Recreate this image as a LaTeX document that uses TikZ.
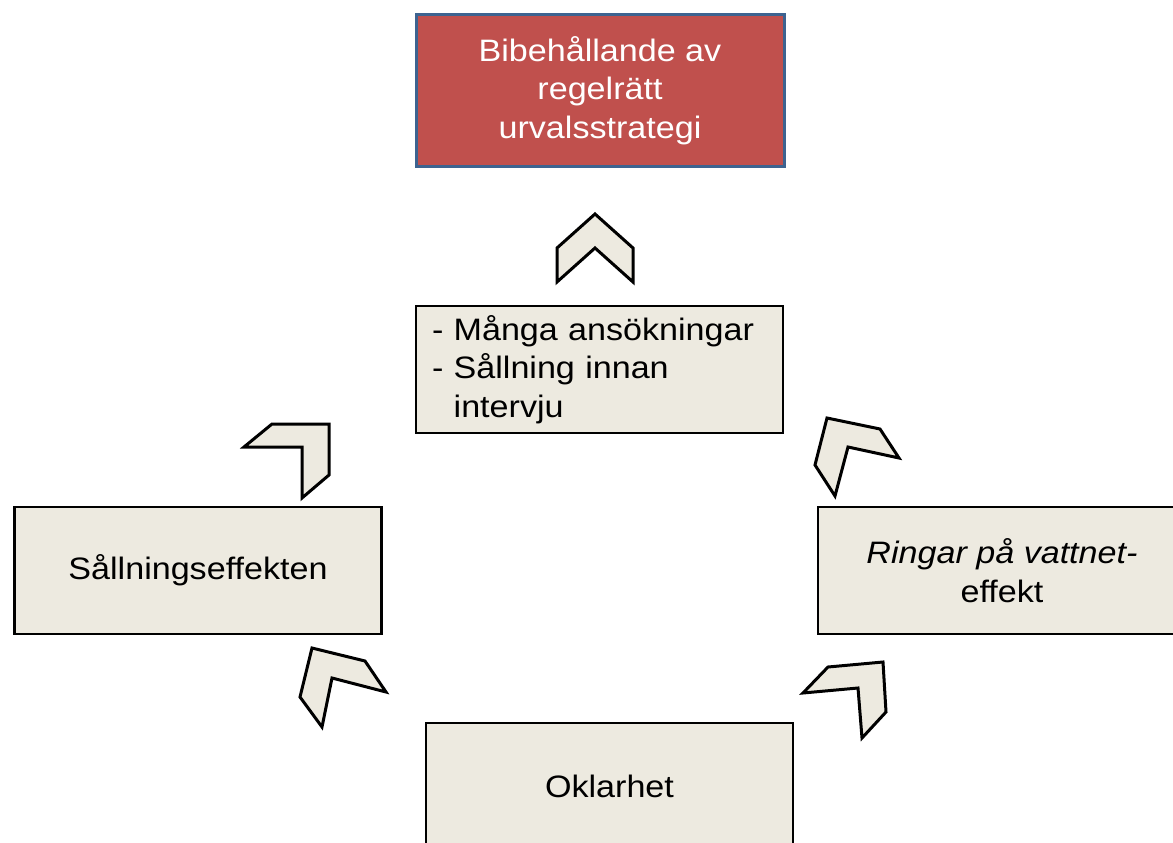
\documentclass[tikz,border=0pt]{standalone}
\usepackage{fontspec}
\setmainfont{Liberation Sans}[FakeStretch=1.1]
\definecolor{beige}{HTML}{EDEAE0}
\definecolor{redfill}{HTML}{C0504D}
\definecolor{blueline}{HTML}{3D6390}
\begin{document}
\begin{tikzpicture}[x=1pt,y=-1pt,
  box/.style={draw=black,line width=2.6pt,fill=beige,minimum width=367pt,minimum height=127pt,inner sep=0pt,
    font=\fontsize{31}{38.5}\selectfont,align=center},
  topbox/.style={draw=blueline,line width=3pt,fill=redfill,minimum width=368pt,minimum height=151pt,inner sep=0pt,
    font=\fontsize{31}{38.5}\selectfont,align=center,text=white},
  chev/.style={draw=black,line width=3pt,fill=beige,line join=miter}]
\useasboundingbox (0,0) rectangle (1173,843);
\clip (0,0) rectangle (1173,843);
\fill[white] (0,0) rectangle (1173,843);
% boxes
\node[topbox] (top) at (600,90.5) {Bibehållande av\\regelrätt\\urvalsstrategi};
\node[box,align=left,text width=335pt] (mid) at (599.5,369.5) {- Många ansökningar\\- Sållning innan\\\phantom{-~}intervju};
\node[box] (left) at (198,570.5) {Sållningseffekten};
\node[box,minimum width=368pt] (right) at (1002,570.5) {\itshape Ringar på vattnet-\\effekt};
\node[box] (bot) at (609.5,786.5) {Oklarhet};
% chevrons
\draw[chev] (595,214) -- (633,248) -- (633,282) -- (595,248) -- (557,282) -- (557,248) -- cycle;
\draw[chev] (272,424) -- (329,424) -- (329,475) -- (302,498) -- (302,447) -- (244,447) -- cycle;
\draw[chev] (827,418) -- (880,429) -- (899,458) -- (848,447) -- (835,496) -- (815,465) -- cycle;
\draw[chev] (312,648) -- (365,661) -- (386,692) -- (332,678) -- (322,727) -- (300,697) -- cycle;
\draw[chev] (828,667) -- (883,662) -- (886,712) -- (862,738) -- (858,688) -- (803,693) -- cycle;
\end{tikzpicture}
\end{document}
